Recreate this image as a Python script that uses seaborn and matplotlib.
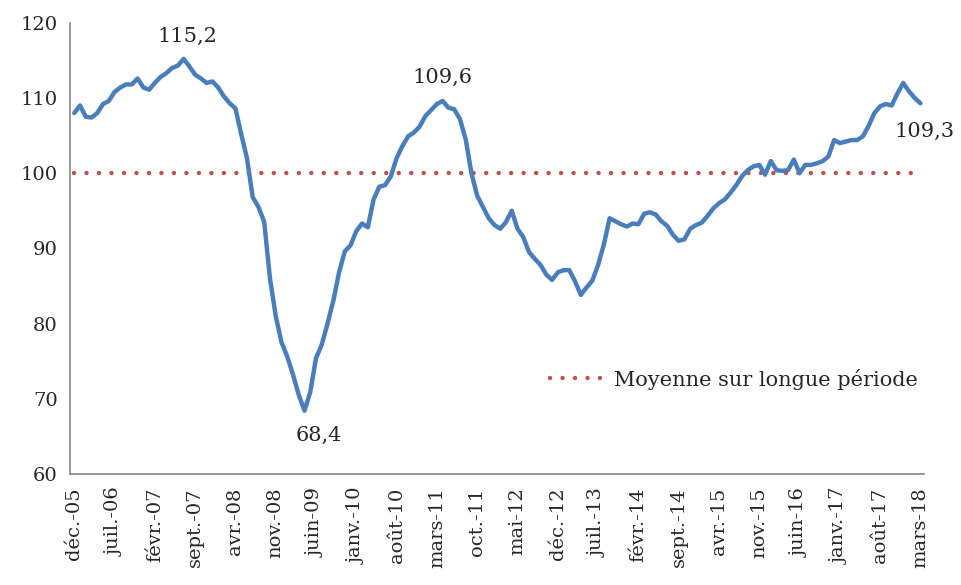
import pandas as pd
import seaborn as sns
import matplotlib.pyplot as plt

sns.set_style("white")
plt.rcParams['font.family'] = ['DejaVu Serif', 'Liberation Serif']

# indicateur mensuel, déc. 2005 -> mars 2018
values = [
    108.0, 109.0, 107.5, 107.4, 108.0, 109.2, 109.6, 110.8, 111.4, 111.8,
    111.8, 112.6, 111.4, 111.1, 112.0, 112.8, 113.3, 114.0, 114.3, 115.2,
    114.2, 113.1, 112.6, 112.0, 112.2, 111.4, 110.2, 109.3, 108.6, 105.2,
    102.0, 96.8, 95.5, 93.5, 86.0, 81.0, 77.5, 75.6, 73.2, 70.5,
    68.4, 70.9, 75.4, 77.2, 80.0, 83.0, 86.8, 89.6, 90.4, 92.3,
    93.3, 92.8, 96.5, 98.2, 98.4, 99.6, 102.0, 103.6, 104.9, 105.4,
    106.2, 107.6, 108.4, 109.2, 109.6, 108.7, 108.5, 107.2, 104.5, 100.0,
    97.0, 95.5, 94.0, 93.1, 92.6, 93.5, 95.0, 92.6, 91.5, 89.5,
    88.6, 87.8, 86.5, 85.8, 86.8, 87.1, 87.1, 85.6, 83.8, 84.8,
    85.7, 87.8, 90.5, 94.0, 93.6, 93.2, 92.9, 93.3, 93.2, 94.6,
    94.8, 94.5, 93.6, 93.0, 91.8, 91.0, 91.2, 92.6, 93.1, 93.4,
    94.3, 95.3, 96.0, 96.5, 97.4, 98.4, 99.6, 100.4, 100.9, 101.1,
    99.8, 101.6, 100.4, 100.3, 100.4, 101.8, 100.0, 101.1, 101.1, 101.3,
    101.6, 102.2, 104.4, 104.0, 104.2, 104.4, 104.4, 104.9, 106.3, 108.0,
    108.9, 109.2, 109.0, 110.6, 112.0, 110.9, 110.0, 109.3,
]
long_term_mean = 100

tick_labels = ['déc.-05', 'juil.-06', 'févr.-07', 'sept.-07', 'avr.-08', 'nov.-08',
               'juin-09', 'janv.-10', 'août-10', 'mars-11', 'oct.-11', 'mai-12',
               'déc.-12', 'juil.-13', 'févr.-14', 'sept.-14', 'avr.-15', 'nov.-15',
               'juin-16', 'janv.-17', 'août-17', 'mars-18']

# (indice du mois, texte)
annotations = [(19, '115,2'), (64, '109,6'), (40, '68,4'), (147, '109,3')]

df = pd.DataFrame({'mois': range(len(values)), 'valeur': values})
df['moyenne'] = long_term_mean

fig = plt.figure(figsize=(9.62, 5.85), dpi=100)
ax = fig.add_axes([0.073, 0.19, 0.888, 0.771])

sns.lineplot(data=df, x='mois', y='moyenne', ax=ax, color='#C0504D',
             linewidth=3.2, label='Moyenne sur longue période')
sns.lineplot(data=df, x='mois', y='valeur', ax=ax, color='#4A7EBB',
             linewidth=3.2)
mean_line = ax.lines[0]
mean_line.set_linestyle((0, (0.01, 2.8)))
mean_line.set_dash_capstyle('round')

offsets = {19: (3, 16), 64: (0, 17), 40: (10, -18), 147: (3, -20)}
for i, txt in annotations:
    ax.annotate(txt, (i, values[i]), xytext=offsets[i], textcoords='offset points',
                ha='center', va='center', fontsize=15)

ax.set_xlim(-0.7, len(values) - 1 + 0.7)
ax.set_ylim(60, 120)
ax.set_yticks(range(60, 121, 10))
ax.set_xticks(range(0, len(values), 7))
ax.set_xticklabels(tick_labels, rotation=90)
ax.set_xlabel('')
ax.set_ylabel('')

for side in ['top', 'right']:
    ax.spines[side].set_visible(False)
for side in ['left', 'bottom']:
    ax.spines[side].set_color('#868686')
    ax.spines[side].set_linewidth(1.2)
ax.tick_params(axis='y', direction='out', length=5, color='#868686', labelsize=14, pad=4)
ax.tick_params(axis='x', direction='out', length=7, color='#868686', labelsize=14, pad=3)

handles, labels = ax.get_legend_handles_labels()
leg = ax.legend(handles[:1], labels[:1], loc='center left', bbox_to_anchor=(0.54, 0.21),
                frameon=False, fontsize=15, handlelength=2.5, handletextpad=0.55)
leg.get_lines()[0].set_dash_capstyle('round')

fig.savefig('out.png', dpi=100)
